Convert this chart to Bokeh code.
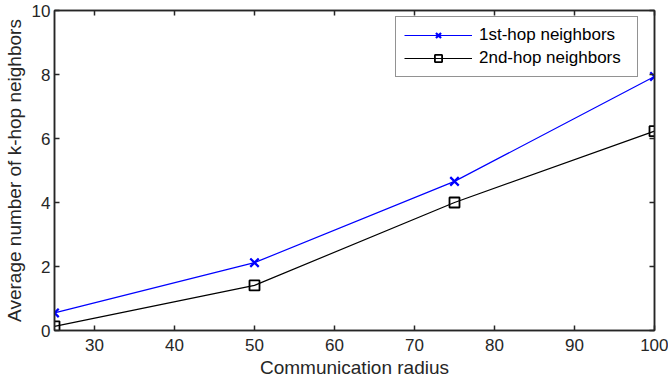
from bokeh.plotting import figure
from bokeh.models import (LinearAxis, Range1d, FixedTicker, Legend, LegendItem,
                          CustomJSTickFormatter)
from bokeh.embed import file_html
from bokeh.resources import INLINE

radius = [25, 50, 75, 100]
first_hop = [0.55, 2.12, 4.66, 7.94]
second_hop = [0.13, 1.41, 4.00, 6.23]
x_ticks = [30, 40, 50, 60, 70, 80, 90, 100]
y_ticks = [0, 2, 4, 6, 8, 10]

FONT = "Liberation Sans"
AX = "#262626"

p = figure(width=668, height=386, output_backend="svg", toolbar_location=None,
           x_range=Range1d(25, 100), y_range=Range1d(0, 10),
           min_border_left=54, min_border_top=10, min_border_right=14, min_border_bottom=56)
p.xgrid.visible = False
p.ygrid.visible = False
p.outline_line_color = AX
p.outline_line_width = 1.5
p.background_fill_color = "white"
p.border_fill_color = "white"

def style_axis(ax, ticks, labels=True):
    ax.ticker = FixedTicker(ticks=ticks)
    ax.axis_line_color = AX
    ax.axis_line_width = 1.5
    ax.major_tick_in = 5
    ax.major_tick_out = 0
    ax.major_tick_line_color = AX
    ax.major_tick_line_width = 1.5
    ax.minor_tick_line_color = None
    ax.major_label_text_font = FONT
    ax.major_label_text_color = AX
    ax.major_label_text_font_size = "17px"
    ax.major_label_standoff = 5
    ax.axis_label_text_font = FONT
    ax.axis_label_text_font_style = "normal"
    ax.axis_label_text_color = AX
    ax.axis_label_text_font_size = "19px"
    if not labels:
        ax.formatter = CustomJSTickFormatter(code="return ''")
        ax.major_label_standoff = 0

style_axis(p.xaxis[0], x_ticks)
style_axis(p.yaxis[0], y_ticks)
p.xaxis[0].axis_label = "Communication radius"
p.xaxis[0].major_label_standoff = 8
p.xaxis[0].axis_label_standoff = 3
p.yaxis[0].axis_label = "Average number of k-hop neighbors"
p.yaxis[0].major_label_standoff = 4
p.yaxis[0].axis_label_standoff = 4

top_ax = LinearAxis()
style_axis(top_ax, x_ticks, labels=False)
p.add_layout(top_ax, "above")
right_ax = LinearAxis()
style_axis(right_ax, y_ticks, labels=False)
p.add_layout(right_ax, "right")

l1 = p.line(radius, first_hop, line_color="#0000ff", line_width=1.2)
m1 = p.scatter(radius, first_hop, marker="x", size=12, line_color="#0000ff", line_width=2.2)
l2 = p.line(radius, second_hop, line_color="black", line_width=1.2)
m2 = p.scatter(radius, second_hop, marker="square", size=10, line_color="black",
               fill_color=None, line_width=1.8)

legend = Legend(items=[
    LegendItem(label="1st-hop neighbors", renderers=[l1, m1]),
    LegendItem(label="2nd-hop neighbors", renderers=[l2, m2]),
], location=(341, 253))
legend.label_text_font = FONT
legend.label_text_font_size = "17px"
legend.label_text_color = "black"
legend.glyph_width = 68
legend.glyph_height = 18
legend.label_height = 18
legend.label_width = 150
legend.label_standoff = 7
legend.spacing = 3
legend.padding = 8
legend.margin = 0
legend.border_line_color = AX
legend.border_line_width = 1
legend.background_fill_alpha = 1
p.add_layout(legend, "center")

open("out.html", "w").write(file_html(p, INLINE))
